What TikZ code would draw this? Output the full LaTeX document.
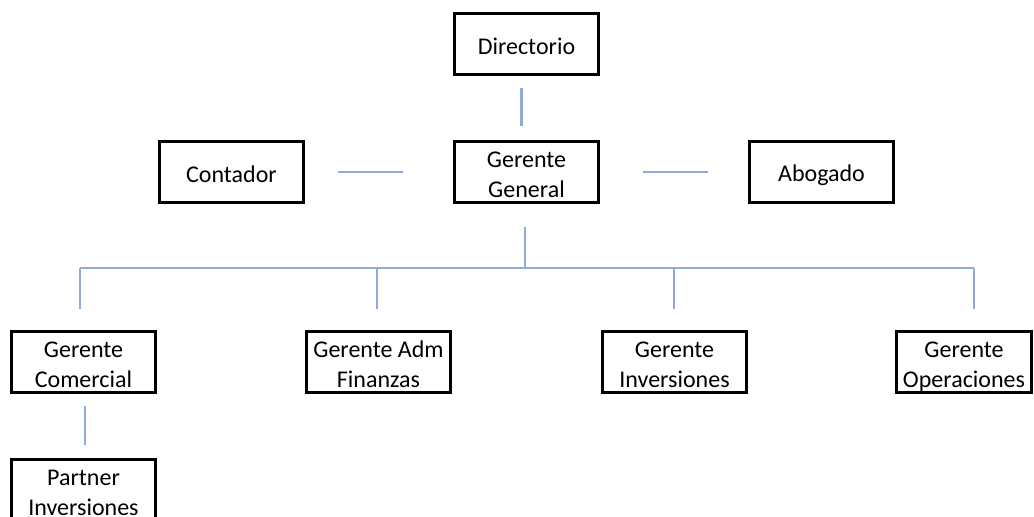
\documentclass[tikz,border=0pt]{standalone}
\usepackage{fontspec}
\setmainfont{Carlito}
\definecolor{linkblue}{RGB}{143,170,220}
\tikzset{
  cargo/.style={draw=black, line width=1.5pt, minimum width=72pt, minimum height=30.5pt,
    align=center, inner sep=0pt, font=\fontsize{12}{15}\selectfont,
    execute at end node={\rule[-2pt]{0pt}{2pt}}},
  uno/.style={cargo, execute at begin node={\rule{0pt}{12pt}}},
  dos/.style={cargo, execute at begin node={\rule{0pt}{27pt}}},
  enlace/.style={draw=linkblue, line width=1.2pt},
}
\begin{document}
\begin{tikzpicture}[x=0.5pt,y=-0.5pt]
    \useasboundingbox (0,0) rectangle (1034,516);

    \node[uno] (dir) at (526.5,44) {Directorio};
    \node[dos] (gg) at (526.5,172) {Gerente\\General};
    \node[uno] (cont) at (231.5,172) {Contador};
    \node[uno] (abog) at (821.5,172) {Abogado};

    \node[dos] (com) at (83.5,362) {Gerente\\Comercial};
    \node[dos] (adm) at (378.5,362) {Gerente Adm\\Finanzas};
    \node[dos] (inv) at (674.5,362) {Gerente\\Inversiones};
    \node[dos, minimum width=67.5pt] (ope) at (964,362) {Gerente\\Operaciones};
    \node[dos] (partner) at (83.5,490) {Partner\\Inversiones};

    \coordinate (bus) at (525,268);
    \coordinate (b1) at (80,268);
    \coordinate (b2) at (377,268);
    \coordinate (b3) at (674,268);
    \coordinate (b4) at (974,268);

    \draw[enlace, shorten <=5.75pt, shorten >=7.25pt] ([xshift=-2.5pt]dir.south) -- ([xshift=-2.5pt]gg.north);
    \draw[enlace, shorten <=16.25pt, shorten >=25.25pt] (cont.east) -- (gg.west);
    \draw[enlace, shorten <=21.25pt, shorten >=20.25pt] (gg.east) -- (abog.west);
    \draw[enlace, shorten <=11.25pt] (gg.south -| bus) -- (bus);
    \draw[enlace] (b1) -- (b4);
    \foreach \b/\n in {b1/com, b2/adm, b3/inv, b4/ope}
        \draw[enlace, shorten >=10.75pt] (\b) -- (\b |- \n.north);
    \draw[enlace, shorten <=5.75pt, shorten >=6.75pt] ([xshift=0.75pt]com.south) -- ([xshift=0.75pt]partner.north);
\end{tikzpicture}
\end{document}
